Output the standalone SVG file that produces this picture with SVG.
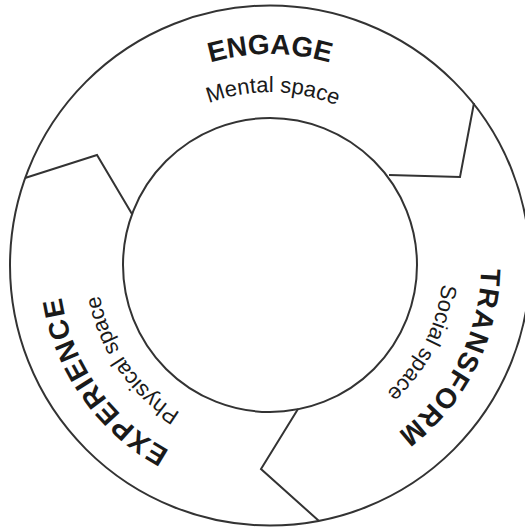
<svg xmlns="http://www.w3.org/2000/svg" xmlns:xlink="http://www.w3.org/1999/xlink" width="525" height="530" viewBox="0 0 525 530">
<style>
.ln{fill:none;stroke:#333;stroke-width:2;stroke-linejoin:miter}
.big{font-family:"Liberation Sans",Arial,sans-serif;font-weight:bold;font-size:28px;fill:#1a1a1a}
.wide{letter-spacing:1.5px}
.sub{font-family:"Liberation Sans",Arial,sans-serif;font-size:22px;fill:#1a1a1a}
</style>
<defs>
<path id="arcBig" d="M62.2,301.6 A211,211 0 1 1 477.8,301.6"/>
<path id="arcSub" d="M99.6,295 A173,173 0 1 1 440.4,295"/>
</defs>
<rect width="525" height="530" fill="#fff"/>
<g id="ring">
<circle class="ln" cx="270" cy="265.5" r="260"/>
<circle class="ln" cx="270" cy="265" r="147"/>
</g>
<g id="connectors">
<polyline class="ln" points="25,178 97,155 132,214"/>
<polyline class="ln" points="474,103 460,177 389,175"/>
<polyline class="ln" points="298,409 261,469 319,521"/>
</g>
<g id="engage">
<text class="big"><textPath xlink:href="#arcBig" startOffset="50%" text-anchor="middle">ENGAGE</textPath></text>
<text class="sub" transform="rotate(1 270 265)"><textPath xlink:href="#arcSub" startOffset="50%" text-anchor="middle">Mental space</textPath></text>
</g>
<g id="transform">
<text class="big wide" transform="rotate(117 270 265)"><textPath xlink:href="#arcBig" startOffset="50%" text-anchor="middle">TRANSFORM</textPath></text>
<text class="sub" transform="rotate(117 270 265)"><textPath xlink:href="#arcSub" startOffset="50%" text-anchor="middle">Social space</textPath></text>
</g>
<g id="experience">
<text class="big wide" transform="rotate(235 270 265)"><textPath xlink:href="#arcBig" startOffset="50%" text-anchor="middle">EXPERIENCE</textPath></text>
<text class="sub" transform="rotate(235.6 270 265)"><textPath xlink:href="#arcSub" startOffset="50%" text-anchor="middle">Physical space</textPath></text>
</g>
</svg>
